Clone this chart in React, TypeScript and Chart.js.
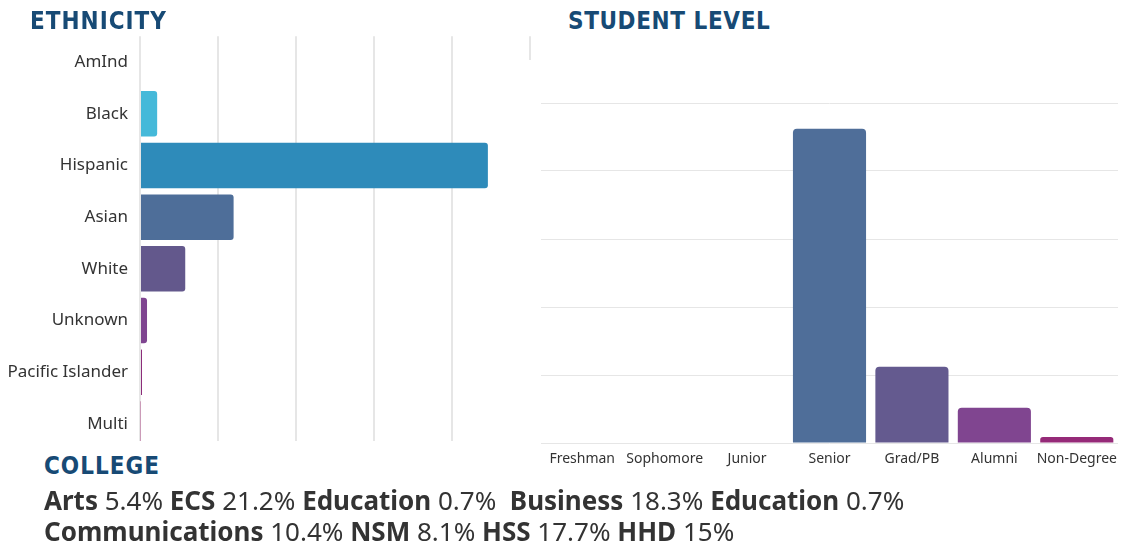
import React, { useEffect, useRef } from "react";
import { Chart, registerables } from "chart.js";

Chart.register(...registerables);

const ethnicityLabels = ["AmInd", "Black", "Hispanic", "Asian", "White", "Unknown", "Pacific Islander", "Multi"];
const ethnicityValues = [0, 11, 223, 60, 29, 4.5, 1.3, 0.4];
const ethnicityColors = ["#3fb8d6", "#45b9d9", "#2e8bba", "#4e6e99", "#63588c", "#7f4590", "#8c2d7a", "#a0206d"];

const levelLabels = ["Freshman", "Sophomore", "Junior", "Senior", "Grad/PB", "Alumni", "Non-Degree"];
const levelValues = [0, 0, 0, 231, 56, 26, 4.4];
const levelColors = ["#45b9d9", "#2e8bba", "#3d7fb0", "#4f6e99", "#645a8f", "#804590", "#952a78"];

const axisMax = 250;
const axisStep = 50;

const collegeNames = ["Arts", "ECS", "Education", "Business", "Education", "Communications", "NSM", "HSS", "HHD"];
const collegePercents = ["5.4%", "21.2%", "0.7%", "18.3%", "0.7%", "10.4%", "8.1%", "17.7%", "15%"];
const collegeLineBreakAfter = 4;

const TITLE_COLOR = "#174a75";
const TEXT_COLOR = "#333333";
const GRID_COLOR = "#e6e6e6";

const titleStyle: React.CSSProperties = {
  position: "absolute",
  fontFamily: "'DejaVu Sans Condensed', 'DejaVu Sans', sans-serif",
  fontWeight: 700,
  fontSize: 24,
  letterSpacing: 1,
  lineHeight: "30px",
  color: TITLE_COLOR,
  margin: 0,
  whiteSpace: "nowrap",
};

export default function App() {
  const leftRef = useRef<HTMLCanvasElement>(null);
  const rightRef = useRef<HTMLCanvasElement>(null);

  useEffect(() => {
    const left = new Chart(leftRef.current!, {
      type: "bar",
      data: {
        labels: ethnicityLabels,
        datasets: [
          {
            data: ethnicityValues,
            backgroundColor: ethnicityColors,
            borderRadius: 3,
            borderSkipped: "start",
            barPercentage: 0.88,
            categoryPercentage: 1,
          },
        ],
      },
      options: {
        indexAxis: "y",
        animation: false,
        responsive: false,
        maintainAspectRatio: false,
        layout: { padding: { top: 0, right: 10, left: 0, bottom: 0 } },
        plugins: { legend: { display: false }, tooltip: { enabled: false } },
        scales: {
          x: {
            min: 0,
            max: axisMax,
            ticks: { display: false, stepSize: axisStep },
            grid: { color: GRID_COLOR, lineWidth: 2, drawTicks: false },
            border: { display: false },
            afterFit: (s: any) => {
              s.height = 0;
            },
          },
          y: {
            ticks: {
              color: TEXT_COLOR,
              font: { family: "'Noto Sans', sans-serif", size: 17 },
              padding: 12,
            },
            grid: { display: false, drawTicks: false },
            border: { display: false },
            afterFit: (s: any) => {
              s.width = 140;
            },
          },
        },
      },
    });

    const right = new Chart(rightRef.current!, {
      type: "bar",
      data: {
        labels: levelLabels,
        datasets: [
          {
            data: levelValues,
            backgroundColor: levelColors,
            borderRadius: 4,
            borderSkipped: "start",
            barPercentage: 0.887,
            categoryPercentage: 1,
          },
        ],
      },
      options: {
        animation: false,
        responsive: false,
        maintainAspectRatio: false,
        layout: { padding: { top: 43, right: 12, left: 14, bottom: 0 } },
        plugins: { legend: { display: false }, tooltip: { enabled: false } },
        scales: {
          y: {
            min: 0,
            max: axisMax,
            ticks: { display: false, stepSize: axisStep },
            grid: { color: GRID_COLOR, lineWidth: 1, drawTicks: false },
            border: { display: false },
            afterFit: (s: any) => {
              s.width = 0;
            },
          },
          x: {
            ticks: {
              color: TEXT_COLOR,
              font: { family: "'Noto Sans', sans-serif", size: 14 },
              padding: 8,
              autoSkip: false,
              maxRotation: 0,
            },
            grid: { display: false, drawTicks: false },
            border: { display: false },
            afterFit: (s: any) => {
              s.height = 30;
            },
          },
        },
      },
    });

    return () => {
      left.destroy();
      right.destroy();
    };
  }, []);

  const renderItem = (i: number, extra: string) => (
    <span key={i}>
      <span style={{ fontWeight: 700 }}>{collegeNames[i]}</span> {collegePercents[i]}
      {extra}
    </span>
  );
  const line1 = collegeNames
    .slice(0, collegeLineBreakAfter + 1)
    .map((_, i) => renderItem(i, i === 2 ? " \u00a0" : " "));
  const line2 = collegeNames
    .slice(collegeLineBreakAfter + 1)
    .map((_, j) => renderItem(j + collegeLineBreakAfter + 1, " "));

  return (
    <div style={{ position: "absolute", left: 0, top: 0, width: 1130, height: 550, background: "#fff", overflow: "hidden" }}>
      <canvas ref={leftRef} width={540} height={458} style={{ position: "absolute", left: 0, top: 14, width: 540, height: 458 }} />
      <canvas ref={rightRef} width={603} height={413} style={{ position: "absolute", left: 527, top: 60, width: 603, height: 413, background: "#fff" }} />
      <div style={{ ...titleStyle, left: 30, top: 6 }}>ETHNICITY</div>
      <div style={{ ...titleStyle, left: 568, top: 6, letterSpacing: 0.6 }}>STUDENT LEVEL</div>
      <div style={{ position: "absolute", left: 0, top: 441, width: 527, height: 109, background: "#fff" }} />
      <div style={{ ...titleStyle, left: 44, top: 451 }}>COLLEGE</div>
      <div
        style={{
          position: "absolute",
          left: 44,
          top: 485,
          fontFamily: "'Noto Sans', sans-serif",
          fontSize: 26,
          lineHeight: "31px",
          color: TEXT_COLOR,
          whiteSpace: "nowrap",
        }}
      >
        <div>{line1}</div>
        <div>{line2}</div>
      </div>
    </div>
  );
}
